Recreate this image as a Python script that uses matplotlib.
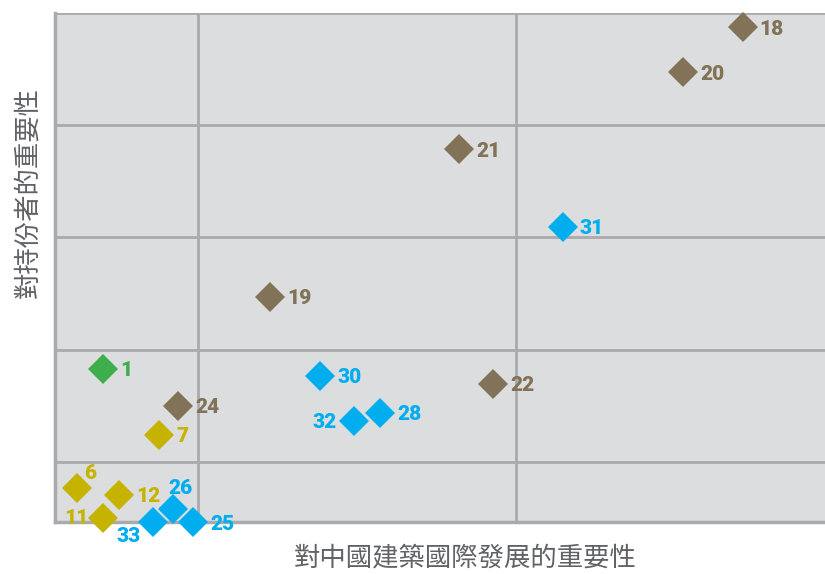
import matplotlib
matplotlib.use('Agg')
import matplotlib.pyplot as plt

# Stakeholder materiality matrix
labels = ['18', '20', '21', '31', '19', '1', '30', '22', '24', '28', '32', '7',
          '6', '12', '11', '26', '33', '25']
x_vals = [2.711, 2.525, 1.821, 2.145, 1.226, 0.701, 1.384, 1.928, 0.937, 1.572,
          1.491, 0.877, 0.619, 0.752, 0.701, 0.921, 0.858, 0.984]
y_vals = [4.875, 4.474, 3.788, 3.094, 2.470, 1.829, 1.766, 1.695, 1.499, 1.437,
          1.365, 1.241, 0.768, 0.706, 0.501, 0.581, 0.465, 0.465]
groups = ['brown', 'brown', 'brown', 'blue', 'brown', 'green', 'blue', 'brown',
          'brown', 'blue', 'blue', 'yellow', 'yellow', 'yellow', 'yellow',
          'blue', 'blue', 'blue']

colors = {'brown': '#827257', 'blue': '#00AEEF', 'yellow': '#C6B300', 'green': '#3DAE4B'}

# where each label sits relative to its diamond (pixels)
offsets = {'6': (7, 14, 'left'), '26': (7, 20, 'center'), '32': (-18, -2, 'right'),
           '11': (-15, -1, 'right'), '33': (-12, -15, 'right')}

fig = plt.figure(figsize=(8.25, 5.74), dpi=100)
ax = fig.add_axes([55 / 825, 52 / 574, 770 / 825, 509 / 574])
ax.set_facecolor('#DCDDDF')

ax.set_xlim(0.55, 2.97)
ax.set_ylim(0.465, 5)
ax.set_xticks([1, 2])
ax.set_yticks([1, 2, 3, 4, 5])
ax.grid(True, color='#A9AAAD', linewidth=2)
ax.set_axisbelow(True)
ax.tick_params(length=0, labelbottom=False, labelleft=False)
for side in ['left', 'bottom']:
    ax.spines[side].set_color('#A9AAAD')
    ax.spines[side].set_linewidth(2.5)
ax.spines['top'].set_visible(False)
ax.spines['right'].set_visible(False)

for lab, x, y, g in zip(labels, x_vals, y_vals, groups):
    c = colors[g]
    ax.plot(x, y, marker='D', markersize=14.8, color=c, markeredgewidth=0,
            linestyle='none', clip_on=False, zorder=3)
    dx, dy, ha = offsets.get(lab, (17, -2, 'left'))
    ax.annotate(lab, (x, y), xytext=(dx, dy), textcoords='offset pixels',
                ha=ha, va='center', color=c, fontsize=15, fontweight='heavy',
                family=['Roboto', 'DejaVu Sans'], annotation_clip=False, zorder=4)

cjk = ['Noto Sans CJK TC', 'DejaVu Sans']
ax.set_xlabel('對中國建築國際發展的重要性', family=cjk, fontsize=19,
              fontweight='light', color='#616265')
ax.set_ylabel('對持份者的重要性', family=cjk, fontsize=19,
              fontweight='light', color='#616265')
ax.xaxis.set_label_coords((465 - 55) / 770, -(558 - 522) / 509)
ax.yaxis.set_label_coords(-(55 - 28) / 770, (522 - 192) / 509)
ax.xaxis.label.set_va('center')
ax.yaxis.label.set_va('center')

fig.savefig('out.png', dpi=100)
